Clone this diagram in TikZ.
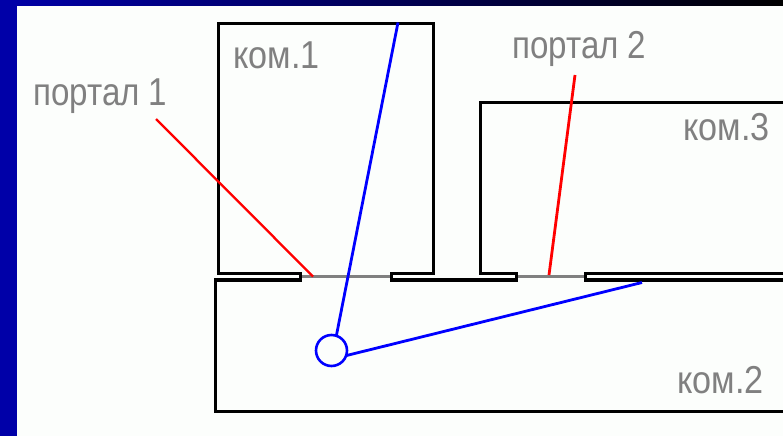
\documentclass[tikz,border=0pt]{standalone}
\usepackage{fontspec}
\setmainfont{Liberation Sans}
\definecolor{barblue}{RGB}{0,0,168}
\definecolor{bgwhite}{RGB}{252,254,252}
\definecolor{txtgray}{RGB}{128,128,128}
\definecolor{pathblue}{RGB}{0,0,255}
\definecolor{portred}{RGB}{255,0,0}
\begin{document}
\begin{tikzpicture}[x=1pt,y=-1pt,
  wall/.style={draw=black,line width=3.3pt,miter limit=10},
  doorline/.style={draw=txtgray,line width=2.4pt},
  route/.style={draw=pathblue,line width=2.8pt,line join=round},
  portal/.style={draw=portred,line width=2.8pt},
  lbl/.style={text=txtgray,font=\fontsize{36}{36}\selectfont,inner sep=0pt,anchor=base west}]
\useasboundingbox (0,0) rectangle (783,436);
\fill[bgwhite] (0,0) rectangle (783,436);
\shade[left color=barblue,right color=black] (0,0) rectangle (783,6);
\fill[barblue] (0,0) rectangle (17,436);
\begin{scope}
\clip (17,6) rectangle (783,436);
% walls
\draw[wall] (790,411.3) -- (215.3,411.3) -- (215.3,280) -- (300.7,280) -- (300.7,273.3)
  -- (218.7,273.3) -- (218.7,23.7) -- (433.7,23.7) -- (433.7,273.3) -- (391.3,273.3)
  -- (391.3,280) -- (516.7,280) -- (516.7,273.3) -- (480.7,273.3) -- (480.7,102.3) -- (790,102.3);
\draw[wall] (790,273.3) -- (585.7,273.3) -- (585.7,280) -- (790,280);
% door portals
\draw[doorline] (302,276.6) -- (390,276.6);
\draw[doorline] (518,276.6) -- (584.4,276.6);
% portal markers
\coordinate (p1a) at (156,119);
\coordinate (p1b) at (313,276.5);
\coordinate (p2a) at (575,75);
\coordinate (p2b) at (549,275);
\draw[portred,line width=2.3pt] (p1a) -- (p1b);
\draw[portal] (p2a) -- (p2b);
% route
\coordinate (r0) at (398,22.5);
\coordinate (r2) at (336.5,335);
\node[circle,draw=pathblue,line width=2.6pt,minimum size=31pt,inner sep=0pt] (eye) at (331.5,350.5) {};
\coordinate (r3) at (346.5,355.5);
\coordinate (r4) at (642,282.5);
\draw[route] (r0) -- (r2);
\draw[route] (r3) -- (r4);
\end{scope}
% labels
\node[lbl] (t1) at (33,105) {\scalebox{0.92}[1.08]{портал 1}};
\node[lbl] (t2) at (512,58) {\scalebox{0.92}[1.08]{портал 2}};
\node[lbl] (k1) at (233,68) {\scalebox{0.95}[1.08]{ком.1}};
\node[lbl] (k3) at (683,140) {\scalebox{0.95}[1.08]{ком.3}};
\node[lbl] (k2) at (677,393) {\scalebox{0.95}[1.08]{ком.2}};
\end{tikzpicture}
\end{document}
